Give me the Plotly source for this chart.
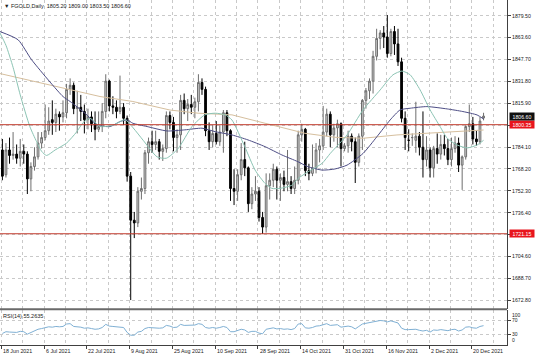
import plotly.graph_objects as go

# ---------------- data ----------------
tick_bars = [0, 12, 24, 36, 48, 60, 72, 84, 96, 108, 120, 132]
tick_dates = ["18 Jun 2021", "6 Jul 2021", "22 Jul 2021", "9 Aug 2021", "25 Aug 2021",
              "10 Sep 2021", "28 Sep 2021", "14 Oct 2021", "31 Oct 2021", "16 Nov 2021",
              "2 Dec 2021", "20 Dec 2021"]

opens = [1782, 1764, 1782, 1778, 1779, 1776, 1781, 1779, 1761, 1770,
         1777, 1787, 1791, 1796, 1804, 1802, 1808, 1806, 1809, 1826,
         1829, 1812, 1813, 1810, 1804, 1806, 1801, 1797, 1799, 1810,
         1832, 1814, 1813, 1810, 1813, 1805, 1763, 1731, 1729, 1752,
         1754, 1780, 1788, 1786, 1788, 1781, 1783, 1807, 1802, 1791,
         1793, 1818, 1812, 1815, 1813, 1817, 1831, 1826, 1796, 1788,
         1794, 1788, 1795, 1809, 1796, 1754, 1752, 1764, 1775, 1769,
         1743, 1750, 1752, 1733, 1726, 1756, 1760, 1768, 1760, 1762,
         1757, 1759, 1754, 1760, 1793, 1797, 1767, 1765, 1769, 1782,
         1785, 1795, 1808, 1793, 1798, 1801, 1783, 1785, 1792, 1788,
         1773, 1792, 1818, 1825, 1832, 1850, 1863, 1867, 1864, 1852,
         1868, 1859, 1846, 1805, 1789, 1791, 1789, 1792, 1784, 1775,
         1782, 1769, 1783, 1779, 1786, 1783, 1775, 1783, 1787, 1771,
         1777, 1799, 1801, 1790, 1788, 1805.2]
highs = [1790, 1787, 1791, 1795, 1786, 1790, 1786, 1781, 1773, 1784,
         1795, 1795, 1815, 1813, 1818, 1812, 1810, 1818, 1830, 1834,
         1831, 1825, 1822, 1815, 1812, 1810, 1810, 1810, 1816, 1837,
         1833, 1821, 1818, 1836, 1816, 1807, 1766, 1737, 1755, 1762,
         1782, 1791, 1796, 1796, 1790, 1786, 1810, 1810, 1806, 1797,
         1822, 1823, 1819, 1822, 1820, 1837, 1834, 1828, 1802, 1800,
         1803, 1800, 1811, 1811, 1797, 1768, 1768, 1787, 1788, 1770,
         1755, 1763, 1755, 1737, 1765, 1765, 1772, 1770, 1765, 1767,
         1782, 1763, 1770, 1796, 1801, 1798, 1772, 1786, 1787, 1790,
         1814, 1812, 1810, 1801, 1804, 1802, 1787, 1796, 1794, 1791,
         1794, 1819, 1827, 1834, 1854, 1870, 1869, 1872, 1880, 1870,
         1872, 1870, 1849, 1810, 1797, 1794, 1817, 1795, 1810, 1792,
         1784, 1785, 1794, 1793, 1793, 1790, 1791, 1792, 1791, 1778,
         1800, 1815, 1806, 1796, 1806, 1809.0]
lows = [1760, 1762, 1772, 1775, 1772, 1770, 1772, 1750, 1752, 1767,
        1775, 1783, 1789, 1793, 1793, 1795, 1796, 1802, 1805, 1822,
        1808, 1794, 1803, 1794, 1797, 1795, 1789, 1795, 1795, 1805,
        1810, 1808, 1805, 1808, 1800, 1759, 1673, 1718, 1726, 1746,
        1750, 1772, 1780, 1782, 1775, 1774, 1780, 1797, 1781, 1780,
        1782, 1808, 1803, 1808, 1805, 1810, 1822, 1792, 1782, 1784,
        1786, 1785, 1780, 1792, 1745, 1742, 1745, 1760, 1763, 1737,
        1739, 1745, 1730, 1721, 1722, 1746, 1755, 1746, 1745, 1752,
        1752, 1750, 1750, 1757, 1788, 1763, 1760, 1763, 1765, 1773,
        1782, 1792, 1784, 1788, 1784, 1770, 1781, 1780, 1781, 1758,
        1770, 1782, 1812, 1819, 1823, 1847, 1855, 1856, 1849, 1850,
        1851, 1843, 1802, 1782, 1781, 1785, 1780, 1778, 1762, 1770,
        1762, 1762, 1772, 1775, 1778, 1771, 1770, 1780, 1766, 1753,
        1775, 1795, 1786, 1785, 1786, 1803.5]
closes = [1763, 1782, 1778, 1779, 1776, 1781, 1779, 1761, 1770, 1777,
          1787, 1791, 1796, 1803, 1802, 1808, 1806, 1809, 1826, 1829,
          1812, 1813, 1810, 1804, 1806, 1801, 1797, 1799, 1810, 1832,
          1814, 1813, 1810, 1813, 1805, 1763, 1731, 1729, 1752, 1754,
          1780, 1788, 1786, 1788, 1781, 1783, 1807, 1802, 1791, 1793,
          1818, 1812, 1815, 1813, 1817, 1831, 1826, 1796, 1788, 1794,
          1788, 1795, 1809, 1796, 1754, 1752, 1764, 1775, 1769, 1743,
          1750, 1752, 1733, 1726, 1756, 1760, 1768, 1760, 1762, 1757,
          1759, 1754, 1760, 1793, 1797, 1767, 1765, 1769, 1782, 1785,
          1795, 1808, 1793, 1798, 1801, 1783, 1785, 1792, 1788, 1773,
          1792, 1818, 1825, 1832, 1850, 1863, 1867, 1864, 1852, 1868,
          1859, 1846, 1805, 1791, 1789, 1791, 1792, 1784, 1775, 1782,
          1769, 1783, 1779, 1786, 1783, 1775, 1783, 1787, 1771, 1777,
          1799, 1801, 1790, 1788, 1803, 1806.6]

# fast moving average (light teal), read at bar positions
ma_fast_bar = [-0.7, 1, 3, 5, 7.7, 9.6, 11, 12.4, 14.8, 18, 20.8, 22.7, 24.6, 27.4, 31,
               34.4, 36.7, 39.5, 43.4, 46, 49.3, 53.2, 56.8, 59.7, 62.5, 64.4, 68, 70.9,
               73.7, 75.6, 77.9, 81.3, 83, 85.8, 89.7, 92, 96.7, 101.2, 106, 109.6, 112.1,
               114.4, 117.2, 120, 122.8, 124.8, 127.6, 130.4, 133.2, 135]
ma_fast_val = [1867, 1858, 1842, 1822, 1799, 1788, 1781, 1778, 1782, 1787, 1795, 1802,
               1805, 1799, 1800, 1804, 1798, 1789, 1777, 1776, 1783, 1799, 1807.5, 1808.7,
               1807.5, 1803.8, 1784.4, 1767.4, 1757.7, 1754.1, 1754.1, 1756.5, 1761.4,
               1766.2, 1772.3, 1779.5, 1792.9, 1811.1, 1825.6, 1836.6, 1839.3, 1836.6,
               1825.6, 1811.1, 1799, 1790.5, 1785.6, 1783.5, 1785.6, 1789]

# medium moving average (dark slate)
ma_mid_bar = [-0.7, 4.4, 8.2, 17, 19, 23.7, 26.5, 30.2, 33, 35, 36.6, 40.6, 46.2, 51.2,
              56, 59.7, 64.4, 68.9, 73.7, 78.4, 82.9, 85.7, 89.7, 93.3, 96.7, 101.2,
              105.1, 108.8, 111.6, 114.4, 119.1, 124.8, 129.2, 133.2, 135]
ma_mid_val = [1868, 1862, 1847.5, 1820.8, 1817.2, 1807.5, 1800.2, 1799, 1802.6, 1803.8,
              1801.4, 1799, 1795.8, 1796.6, 1797.8, 1795.3, 1792.9, 1789.3, 1784.4,
              1778.4, 1773.5, 1769.9, 1767.4, 1768.2, 1771, 1779.5, 1791.7, 1803.8,
              1811.1, 1812.3, 1813.5, 1811.8, 1809.9, 1807.4, 1804.5]

# slow moving average (tan)
ma_slow_bar = [-0.7, 13.4, 27.4, 36.6, 47, 54.9, 64.4, 73.7, 79.3, 84.9, 93.3, 101.2,
               110.7, 120, 129.2, 135]
ma_slow_val = [1837.5, 1829.3, 1820.8, 1817.2, 1811, 1808.7, 1807.5, 1801.4, 1797.8,
               1794.1, 1791.2, 1790.5, 1792.9, 1794.1, 1795.3, 1796.5]

rsi = [33, 38, 37, 37, 36, 39, 38, 31, 36, 40, 45, 47, 49, 52, 51, 53, 52, 53, 60, 61,
       53, 53, 51, 48, 49, 47, 45, 46, 50, 59, 54, 53, 52, 53, 50, 36, 28, 28, 37, 39,
       47, 50, 49, 50, 48, 49, 56, 54, 50, 51, 59, 56, 57, 56, 57, 61, 59, 50, 48, 50,
       48, 50, 53, 50, 38, 38, 42, 45, 43, 36, 39, 39, 34, 32, 45, 47, 49, 46, 47, 45,
       46, 44, 47, 60, 61, 49, 48, 50, 54, 55, 57, 61, 56, 57, 58, 51, 52, 54, 52, 46,
       53, 60, 62, 64, 67, 70, 70, 69, 66, 69, 66, 63, 48, 44, 44, 44, 45, 42, 40, 42,
       37, 43, 42, 44, 43, 41, 44, 45, 40, 43, 51, 52, 49, 48, 53, 55.2635]

levels = [1800.35, 1721.15]
last_price = 1806.60
price_ticks = [1879.50, 1863.60, 1847.70, 1831.80, 1815.90, 1800.00, 1784.10, 1768.20,
               1752.30, 1736.40, 1720.50, 1704.60, 1688.70, 1672.80]
hidden_ticks = [1800.00, 1720.50]

# ---------------- figure ----------------
bars = list(range(len(closes)))
FONT = "Liberation Sans, Arial, sans-serif"
GRID = "#c9c9c9"
AX = "#404040"
TXT = "#202020"

fig = go.Figure()
fig.add_trace(go.Candlestick(
    x=bars, open=opens, high=highs, low=lows, close=closes,
    increasing=dict(line=dict(color="#6e6e6e", width=1), fillcolor="#cfcfcf"),
    decreasing=dict(line=dict(color="#000000", width=1), fillcolor="#000000"),
    whiskerwidth=0, xaxis="x", yaxis="y", showlegend=False, hoverinfo="skip"))
fig.add_trace(go.Scatter(x=ma_slow_bar, y=ma_slow_val, mode="lines",
                         line=dict(color="#d6bf9e", width=1), xaxis="x", yaxis="y",
                         showlegend=False, hoverinfo="skip"))
fig.add_trace(go.Scatter(x=ma_mid_bar, y=ma_mid_val, mode="lines",
                         line=dict(color="#4d4d85", width=1, shape="spline", smoothing=0.6),
                         xaxis="x", yaxis="y", showlegend=False, hoverinfo="skip"))
fig.add_trace(go.Scatter(x=ma_fast_bar, y=ma_fast_val, mode="lines",
                         line=dict(color="#8cc4b4", width=1, shape="spline", smoothing=0.6),
                         xaxis="x", yaxis="y", showlegend=False, hoverinfo="skip"))
fig.add_trace(go.Scatter(x=bars, y=rsi, mode="lines",
                         line=dict(color="#7fb0d4", width=1), xaxis="x2", yaxis="y2",
                         showlegend=False, hoverinfo="skip"))

xr = [-0.673, 141.58]
main_dom = [0.1043, 1.0]
rsi_dom = [0.0, 0.1014]

common_x = dict(range=xr, showticklabels=False, zeroline=False,
                tickmode="array", tickvals=[b - 0.3 for b in tick_bars],
                showgrid=True, gridcolor=GRID, griddash="dot", gridwidth=1,
                minor=dict(tickmode="linear", tick0=-0.3, dtick=6, showgrid=True,
                           gridcolor=GRID, griddash="dot", gridwidth=1))

ticktext = ["" if v in hidden_ticks else f"{v:.2f}" for v in price_ticks]

fig.update_layout(
    width=536, height=357,
    margin=dict(l=0, r=29, t=0, b=12, autoexpand=False),
    paper_bgcolor="white", plot_bgcolor="white",
    font=dict(family=FONT, size=5.5, color=TXT),
    xaxis=dict(**common_x, anchor="y", domain=[0, 1], rangeslider=dict(visible=False)),
    xaxis2=dict(**common_x, anchor="y2", domain=[0, 1], matches="x",
                showline=True, linecolor=AX, linewidth=1,
                ticks="outside", ticklen=3, tickcolor=AX),
    yaxis=dict(domain=main_dom, range=[1666.5, 1890.9], side="right",
               tickmode="array", tickvals=price_ticks, ticktext=ticktext,
               showgrid=True, gridcolor=GRID, griddash="dot", zeroline=False,
               ticks="outside", ticklen=3, tickcolor=AX,
               showline=True, linecolor=AX, linewidth=1,
               tickfont=dict(size=5.2, family=FONT, color=TXT)),
    yaxis2=dict(domain=rsi_dom, range=[0, 100], side="right",
                tickmode="array", tickvals=[30, 70], ticktext=["30", "70"],
                showgrid=True, gridcolor=GRID, griddash="dot", zeroline=False,
                ticks="outside", ticklen=3, tickcolor=AX,
                showline=True, linecolor=AX, linewidth=1,
                tickfont=dict(size=5, family=FONT, color=TXT)),
)

# level lines
for lv in levels:
    fig.add_shape(type="line", xref="paper", x0=0, x1=1, yref="y", y0=lv, y1=lv,
                  line=dict(color="#c0392b", width=1))
# separator between panels
fig.add_shape(type="line", xref="paper", x0=0, x1=1, yref="paper", y0=0.1035, y1=0.1035,
              line=dict(color="#6a6a6a", width=2))

ann = []
for lv in levels:
    ann.append(dict(xref="paper", x=1.0, xanchor="left", xshift=2, yref="y", y=lv,
                    yanchor="middle", text=f"{lv:.2f}", showarrow=False, width=24, height=7,
                    bgcolor="#e8141c", font=dict(color="white", size=5.2, family=FONT),
                    borderpad=0))
ann.append(dict(xref="paper", x=1.0, xanchor="left", xshift=2, yref="y", y=last_price,
                yanchor="middle", text=f"{last_price:.2f}", showarrow=False, width=24, height=7,
                bgcolor="#101010", font=dict(color="white", size=5.2, family=FONT),
                borderpad=0))
ann.append(dict(xref="paper", x=0, xanchor="left", xshift=2, yref="paper", y=1,
                yanchor="top", yshift=-1, showarrow=False,
                text="▼ FGOLD,Daily  %.2f %.2f %.2f %.2f" % (opens[-1], highs[-1], lows[-1], closes[-1]),
                font=dict(size=5.5, family=FONT, color=TXT)))
ann.append(dict(xref="paper", x=0, xanchor="left", xshift=1, yref="y2", y=100,
                yanchor="top", yshift=-1, showarrow=False,
                text="RSI(14) %.4f" % rsi[-1],
                font=dict(size=5.5, family=FONT, color=TXT)))
ann.append(dict(xref="paper", x=1.0, xanchor="left", xshift=3, yref="y2", y=100,
                yanchor="top", showarrow=False, text="100",
                font=dict(size=5, family=FONT, color=TXT)))
ann.append(dict(xref="paper", x=1.0, xanchor="left", xshift=3, yref="y2", y=0,
                yanchor="bottom", showarrow=False, text="0",
                font=dict(size=5, family=FONT, color=TXT)))
for b, t in zip(tick_bars, tick_dates):
    ann.append(dict(xref="x2", x=b, xanchor="left", xshift=-1.5, yref="paper", y=0,
                    yanchor="top", yshift=-1, showarrow=False, text=t,
                    font=dict(size=5.3, family=FONT, color=TXT)))
fig.update_layout(annotations=ann)

fig.write_html("out.html", config={"displayModeBar": False},
               post_script="document.body.style.margin='0';document.body.style.overflow='hidden';")
